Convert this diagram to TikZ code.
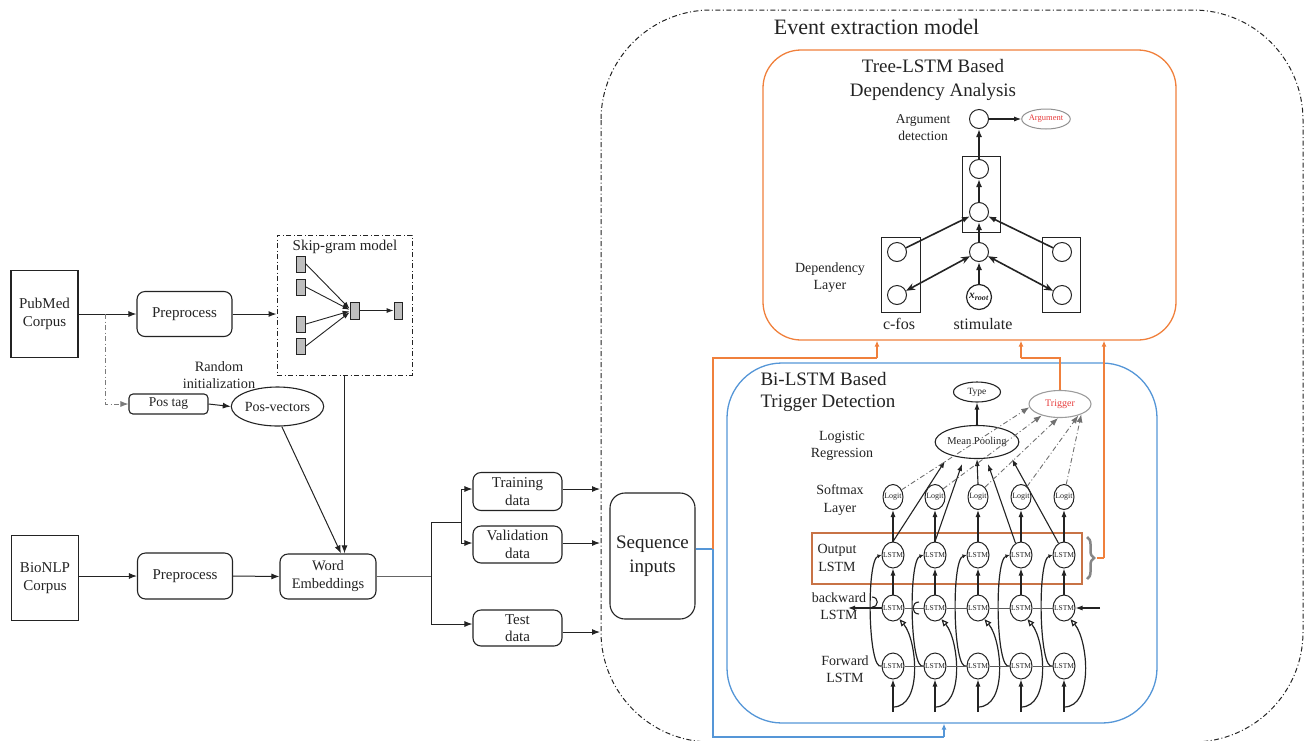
\documentclass[tikz,border=0pt]{standalone}
\usepackage{fontspec}
\setmainfont{Liberation Serif}
\usetikzlibrary{arrows.meta,shapes.geometric,decorations.pathreplacing,calc}
\definecolor{treeor}{RGB}{240,128,60}
\definecolor{outor}{RGB}{200,115,70}
\definecolor{lstmblue}{RGB}{85,150,215}
\definecolor{ink}{RGB}{35,35,35}
\definecolor{trigred}{RGB}{230,60,60}
\definecolor{cellgray}{RGB}{190,190,190}
\newcommand{\fsz}[2]{\fontsize{#1}{#2}\selectfont}
\begin{document}
\begin{tikzpicture}[x=1pt,y=-1pt,
  every node/.style={text=ink},
  rbox/.style={draw=ink, line width=1.1pt, rounded corners=8pt, align=center, inner sep=0pt, font=\fsz{15}{18}},
  sbox/.style={draw=ink, line width=1.1pt, align=center, inner sep=0pt, font=\fsz{15}{18}},
  arr/.style={draw=ink, line width=1pt, -{Latex[length=8pt,width=6pt]}},
  ddot/.style={dash pattern=on 5pt off 2.5pt on 1pt off 2.5pt},
  cell/.style={draw=ink, fill=cellgray, line width=0.8pt, inner sep=0pt, minimum width=9pt, minimum height=16pt},
  lstm/.style={ellipse, draw=ink, line width=1pt, minimum width=22pt, minimum height=26pt, inner sep=-3pt, font=\fsz{7.5}{8}},
  logit/.style={ellipse, draw=ink, line width=1pt, minimum width=20pt, minimum height=25pt, inner sep=-3pt, font=\fsz{8}{9}},
  tcirc/.style={circle, draw=ink, line width=1pt, minimum size=19pt, inner sep=0pt},
  lbl/.style={align=center, font=\fsz{14}{17.5}},
  tarr/.style={draw=ink, line width=1.6pt, -{Latex[length=8pt,width=6pt]}},
  darr/.style={draw=ink, line width=1.6pt, {Stealth[length=9pt,width=7pt]}-{Stealth[length=9pt,width=7pt]}},
  hline/.style={draw=ink!75, line width=1pt},
  larr/.style={draw=ink, line width=1.1pt, -{Latex[length=7pt,width=5pt]}},
  garr/.style={draw=ink!65, line width=0.9pt, ddot, -{Latex[length=8pt,width=6pt]}},
  orl/.style={draw=treeor, line width=1.2pt},
  orarr/.style={draw=treeor, line width=1.2pt, -{Latex[length=6pt,width=5pt]}},
  blarr/.style={draw=lstmblue, line width=1.2pt, -{Latex[length=6pt,width=5pt]}}
]
\useasboundingbox (0,0) rectangle (1304,740);

% ---------------- corpora and word embeddings ----------------
\node[sbox, minimum width=67pt, minimum height=87pt] (pubmed) at (44.5,314) {PubMed\\Corpus};
\node[rbox, minimum width=95pt, minimum height=45pt] (pre1) at (184.5,314) {Preprocess};
\node[draw=ink, ddot, line width=1pt, minimum width=135pt, minimum height=140pt, inner sep=0pt] (skip) at (344.5,305) {};
\node[font=\fsz{15}{17}] (skipt) at (345,247) {Skip-gram model};
\node[cell] (c1) at (301,264) {};
\node[cell] (c2) at (301,287) {};
\node[cell] (c3) at (301,324) {};
\node[cell] (c4) at (301,346) {};
\node[cell, minimum height=17pt] (cm) at (354.5,310.5) {};
\node[cell, minimum width=8pt, minimum height=17pt] (co) at (398,310.5) {};
\foreach \c/\a in {c1/160,c2/172,c3/188,c4/200}
  \draw[draw=ink, line width=0.9pt, -{Latex[length=7pt,width=5pt]}] (\c.east) -- (cm.\a);
\draw[draw=ink, line width=0.9pt, -{Latex[length=7pt,width=5pt]}] (cm.east) -- (co.west);

\draw[arr] (pubmed.east) -- (pre1.west);
\draw[arr] (pre1.east) -- (skip.west |- pre1.east);

\node[rbox, rounded corners=4pt, minimum width=79pt, minimum height=20pt, font=\fsz{13.5}{15}] (postag) at (168.5,404) {Pos tag};
\node[ellipse, draw=ink, line width=1.1pt, minimum width=83pt, minimum height=39pt, inner sep=0pt, font=\fsz{14}{16}] (posvec) at (277.5,406.5) {Pos-vectors};
\node[lbl, font=\fsz{14.3}{17}] (randinit) at (219,375) {Random\\initialization};
\coordinate (tap) at (105,314);
\draw[draw=ink!60, line width=0.9pt, ddot, -{Latex[length=8pt,width=6pt]}] (tap) |- (postag.west);
\draw[arr] (postag.east) -- (posvec.west);

\node[sbox, minimum width=67pt, minimum height=85pt] (bionlp) at (45,578) {BioNLP\\Corpus};
\node[rbox, minimum width=95pt, minimum height=46pt] (pre2) at (185,576) {Preprocess};
\node[rbox, minimum width=96pt, minimum height=45pt, font=\fsz{14.5}{18}] (we) at (328,576.5) {Word\\Embeddings};
\draw[arr] (bionlp.east |- pre2.west) -- (pre2.west);
\draw[arr] (pre2.east) -- (we.west);
\draw[arr] (posvec.-78) -- ($(we.north)+(13,0)$);
\draw[arr] (skip.south) -- (skip.south |- we.north);

% ---------------- data split ----------------
\node[rbox, minimum width=89pt, minimum height=38pt, font=\fsz{15}{17.5}] (train) at (517.5,491.5) {Training\\data};
\node[rbox, minimum width=89pt, minimum height=37pt, font=\fsz{15}{17.5}] (valid) at (517.5,544.5) {Validation\\data};
\node[rbox, minimum width=89pt, minimum height=36pt, font=\fsz{15}{17.5}] (test) at (517.5,628) {Test\\data};
\coordinate (sp0) at (431,576.5);
\coordinate (sp1) at (431,522);
\coordinate (sp2) at (431,624);
\coordinate (sp3) at (461,522);
\draw[draw=ink!70, line width=1pt] (we.east) -- (sp0);
\draw[draw=ink, line width=1pt] (sp1) -- (sp2);
\draw[draw=ink, line width=1pt] (sp1) -- (sp3);
\draw[draw=ink, line width=1pt] (461,489) -- (461,543);
\draw[arr] (461,489) -- (train.west |- 461,489);
\draw[arr] (461,543) -- (valid.west |- 461,543);
\draw[arr] (sp2) -- (test.west |- sp2);
\coordinate (ti) at (600,489);
\coordinate (vi) at (600,543);
\coordinate (ei) at (600,632);
\draw[arr] (train.east |- ti) -- (ti);
\draw[arr] (valid.east |- vi) -- (vi);
\draw[arr] (test.east |- ei) -- (ei);

\node[rbox, rounded corners=15pt, minimum width=85pt, minimum height=126pt, font=\fsz{19}{24}] (seq) at (652.5,556) {Sequence\\inputs};

% ---------------- event extraction model ----------------
\draw[draw=ink, line width=1pt, ddot, rounded corners=110pt] (601,10) rectangle (1303,742);
\node[font=\fsz{22}{24}] (evt) at (876.5,27) {Event extraction model};

% Tree-LSTM part
\node[draw=treeor, line width=1.3pt, rounded corners=38pt, minimum width=413pt, minimum height=290pt, inner sep=0pt] (tree) at (969.5,195) {};
\node[align=center, font=\fsz{19}{24}] (treet) at (933,80) {Tree-LSTM Based\\Dependency Analysis};
\draw[draw=ink, line width=1pt] (962,156) rectangle (1000,232);
\draw[draw=ink, line width=1pt] (881,237) rectangle (920,312);
\draw[draw=ink, line width=1pt] (1042,237) rectangle (1080,312);
\node[tcirc] (ttop) at (979,119) {};
\node[tcirc] (ta) at (979,169) {};
\node[tcirc] (tb) at (979,212) {};
\node[tcirc] (tc) at (979,252) {};
\node[circle, draw=ink, line width=1.2pt, minimum size=25pt, inner sep=-2pt, font=\fsz{11.5}{12}] (root) at (979,297) {\textbf{\textit{x}}\textsubscript{\textbf{\textit{root}}}};
\node[tcirc] (l1) at (897,252) {};
\node[tcirc] (l2) at (897,295) {};
\node[tcirc] (r1) at (1062,252) {};
\node[tcirc] (r2) at (1062,295) {};
\node[ellipse, draw=ink!50, line width=1pt, minimum width=47pt, minimum height=20pt, inner sep=0pt, text=trigred, font=\fsz{8.5}{9}] (arg) at (1046,119) {Argument};
\draw[draw=ink, line width=1.1pt, -{Latex[length=7pt,width=5pt]}] (ttop.east) -- (arg.west);
\draw[tarr] (ta.north) -- (ttop.south);
\draw[tarr] (tb.north) -- (ta.south);
\draw[tarr] (tc.north) -- (tb.south);
\draw[tarr] (root.north) -- (tc.south);
\draw[tarr] (l1.25) -- (tb.205);
\draw[tarr] (r1.155) -- (tb.-25);
\draw[darr] (tc.205) -- (l2.25);
\draw[darr] (tc.-25) -- (r2.155);
\node[lbl, font=\fsz{13.5}{17}] (argdet) at (923,128) {Argument\\detection};
\node[lbl, font=\fsz{14}{17}] (deplay) at (830,278) {Dependency\\Layer};
\node[font=\fsz{16}{18}] (cfos) at (899,324) {c-fos};
\node[font=\fsz{16}{18}] (stim) at (983,324) {stimulate};

% Bi-LSTM part
\node[draw=lstmblue, line width=1.3pt, rounded corners=55pt, minimum width=430pt, minimum height=360pt, inner sep=0pt] (bil) at (942,543) {};
\node[align=left, font=\fsz{19}{22}, anchor=north west] (bilt) at (757,369) {Bi-LSTM Based\\Trigger Detection};
\node[draw=outor, line width=1.5pt, minimum width=270pt, minimum height=51pt, inner sep=0pt] (outbox) at (947,558.5) {};

\node[lbl] (lr) at (842,446) {Logistic\\Regression};
\node[lbl] (sm) at (840,500) {Softmax\\Layer};
\node[lbl] (ol) at (837,558) {Output\\LSTM};
\node[lbl] (bl) at (839,606) {backward\\LSTM};
\node[lbl] (fl) at (845,669) {Forward\\LSTM};

\node[ellipse, draw=ink, line width=1.1pt, minimum width=47pt, minimum height=20pt, inner sep=0pt, font=\fsz{9.5}{10}] (type) at (977,392) {Type};
\node[ellipse, draw=ink, line width=1.1pt, minimum width=78pt, minimum height=33pt, inner sep=0pt, font=\fsz{10.5}{11}] (mp) at (977,442) {Mean Pooling};
\node[ellipse, draw=ink!45, line width=1.1pt, minimum width=62pt, minimum height=27pt, inner sep=0pt, text=trigred, font=\fsz{10}{11}] (trig) at (1060,404) {Trigger};
\draw[larr] (mp.north) -- (type.south);

\foreach \i/\c in {1/893,2/935,3/978,4/1021,5/1064}{
  \node[lstm] (o\i) at (\c,555) {LSTM};
  \node[lstm] (b\i) at (\c,608) {LSTM};
  \node[lstm] (f\i) at (\c,666) {LSTM};
  \node[logit] (g\i) at (\c,497) {Logit};
  \coordinate (in\i) at (\c,712);
  \draw[larr] (in\i) -- (f\i.south);
  \draw[larr] (b\i.north) -- (o\i.south);
  \draw[larr] (o\i.north) -- (g\i.south);
  % forward state up to the output layer
  \draw[draw=ink, line width=1.2pt, -{Latex[length=4pt,width=4pt]}] (f\i.west) .. controls (\c-25,672) and (\c-27,560) .. (o\i.west);
  % input fed to the backward layer
  \draw[draw=ink, line width=1.2pt, -{Triangle[open,length=7pt,width=6pt]}] (\c,707) .. controls (\c+30,707) and (\c+24,640) .. (b\i.-60);
}
\foreach \i/\j in {1/2,2/3,3/4,4/5}{
  \draw[hline] (f\i.east) -- (f\j.west);
  \draw[hline] (b\i.east) -- (b\j.west);
}
\coordinate (bin) at (1100,608);
\coordinate (bout) at (848,608);
\draw[larr] (bin) -- (b5.east);
\draw[larr] (b1.west) -- (bout);
% line jumps where the backward chain crosses the feedback curves
\draw[draw=ink, line width=1.1pt] (872,597) .. controls (879,597) and (879,607) .. (872,607);
\draw[draw=ink, line width=1.1pt] (919,602) .. controls (911,602) and (911,614) .. (919,614);

% arrows into mean pooling
\draw[larr] (o1.north) -- (945,461);
\draw[larr] (o2.north) -- (962,464);
\draw[larr] (g3.north) -- (mp.south);
\draw[larr] (o4.115) -- (988,464);
\draw[larr] (o5.115) -- (1012,459);
% logits to trigger
\draw[garr] (g1.40) -- (trig.186);
\draw[garr] (g2.45) -- (trig.212);
\draw[garr] (g3.55) -- (trig.262);
\draw[garr] (g4.60) -- (trig.328);
\draw[garr] (g5.80) -- (trig.334);

% brace over the output layer
\draw[decorate, decoration={brace, amplitude=7pt}, draw=ink!55, line width=2.5pt] (1087,537) -- (1087,579);
\coordinate (brtip) at (1097,558);

% routing between the modules
\coordinate (jn) at (713,549);
\draw[draw=lstmblue, line width=1.2pt] (seq.east |- jn) -- (jn);
\draw[orl] (jn) -- (713,358) -- (877,358);
\draw[orarr] (877,358) -- (877,358 |- tree.south);
\draw[orl] (trig.north) -- (1060,358) -- (1021,358);
\draw[orarr] (1021,358) -- (1021,358 |- tree.south);
\draw[orl] (brtip) -- (1104,558);
\draw[orarr] (1104,558) -- (1104,558 |- tree.south);
\draw[draw=lstmblue, line width=1.2pt] (jn) -- (713,737) -- (944,737);
\draw[blarr] (944,737) -- (944,737 |- bil.south);
\end{tikzpicture}
\end{document}
